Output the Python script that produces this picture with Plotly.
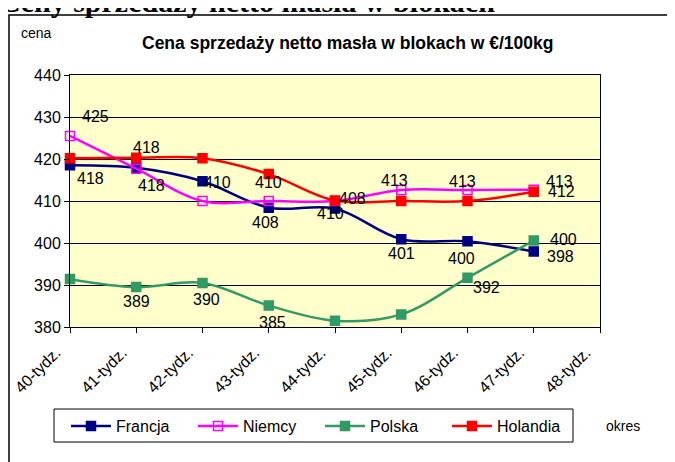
import plotly.graph_objects as go

# tygodnie (oś X)
weeks = ['40-tydz.', '41-tydz.', '42-tydz.', '43-tydz.', '44-tydz.',
         '45-tydz.', '46-tydz.', '47-tydz.', '48-tydz.']

# ceny w EUR/100kg
francja = [418.5, 417.9, 414.7, 408.4, 408.2, 400.9, 400.4, 398.0]
niemcy = [425.5, 417.7, 410.0, 410.0, 410.0, 412.6, 412.6, 412.7]
polska = [391.4, 389.5, 390.5, 385.1, 381.5, 383.0, 391.7, 400.6]
holandia = [420.2, 420.3, 420.2, 416.4, 410.1, 410.0, 410.0, 412.2]

# etykiety danych tak jak na wykresie
francja_lab = ['418', None, None, '408', '410', '401', '400', '398']
niemcy_lab = ['425', '418', '410', None, None, '413', '413', '413']
polska_lab = [None, '389', '390', '385', None, None, '392', '400']
holandia_lab = [None, '418', None, '410', '408', None, None, '412']

# przesunięcia etykiet (px)
lab_shift = {
    'Francja': [(20, -13), None, None, (-3, -15), (-5, -5), (0, -14), (-6, -17), (27, -5)],
    'Niemcy': [(25, 19), (15, -17), (15, 19), None, None, (-7, 10), (-5, 9), (26, 8)],
    'Polska': [None, (0, -14), (4, -17), (4, -17), None, None, (19, -10), (30, 1)],
    'Holandia': [None, (10, 10), None, (0, -8), (17, 2), None, None, (28, 0)],
}

series = [
    ('Francja', francja, francja_lab, '#000080', 'square'),
    ('Niemcy', niemcy, niemcy_lab, '#FF00FF', 'square-open'),
    ('Polska', polska, polska_lab, '#339966', 'square'),
    ('Holandia', holandia, holandia_lab, '#FF0000', 'square'),
]

FONT = 'Liberation Sans, Arial, sans-serif'

# obszar wykresu w pikselach (strona ma 8px marginesu)
OFF = 8
L, R, T, B = 70, 600, 75, 327
W, H = R - L, B - T
FW, FH = 675 - OFF, 462 - OFF


def px(x):
    return (x - L) / W


def py(y):
    return (B - y) / H


fig = go.Figure()
annotations = []
for name, vals, labs, color, sym in series:
    xs = list(range(len(vals)))
    fig.add_trace(go.Scatter(
        x=xs, y=vals, name=name,
        mode='lines+markers',
        line=dict(color=color, width=2.5, shape='spline', smoothing=1),
        marker=dict(symbol=sym, size=9, color=color, line=dict(color=color, width=1.5)),
        cliponaxis=False,
    ))
    for i, t in enumerate(labs):
        if t is None:
            continue
        dx, dy = lab_shift[name][i]
        annotations.append(dict(
            x=xs[i], y=vals[i], text=t, showarrow=False,
            xshift=dx, yshift=dy, xanchor='center', yanchor='middle',
            font=dict(family=FONT, size=16, color='black'),
        ))

# teksty dodatkowe
annotations += [
    dict(xref='paper', yref='paper', x=px(-3), y=py(2),
         text='<b>Ceny sprzedaży netto masła w blokach</b>', showarrow=False,
         xanchor='left', yanchor='middle',
         font=dict(family='Liberation Serif, Times New Roman, serif', size=30, color='black')),
    dict(xref='paper', yref='paper', x=px(347), y=py(43),
         text='<b>Cena sprzedaży netto masła w blokach w €/100kg</b>', showarrow=False,
         xanchor='center', yanchor='middle',
         font=dict(family=FONT, size=17.5, color='black')),
    dict(xref='paper', yref='paper', x=px(19), y=py(33),
         text='cena', showarrow=False, xanchor='left', yanchor='middle',
         font=dict(family=FONT, size=14, color='black')),
    dict(xref='paper', yref='paper', x=px(604), y=py(426),
         text='okres', showarrow=False, xanchor='left', yanchor='middle',
         font=dict(family=FONT, size=14, color='black')),
]

fig.update_layout(
    width=FW, height=FH,
    margin=dict(l=L - OFF, r=FW - (R - OFF), t=T - OFF, b=FH - (B - OFF), autoexpand=False),
    paper_bgcolor='white',
    plot_bgcolor='#FFFFCC',
    font=dict(family=FONT, size=16, color='black'),
    annotations=annotations,
    shapes=[
        # ramka całego wykresu
        dict(type='rect', xref='paper', yref='paper',
             x0=px(9), x1=px(690), y0=py(480), y1=py(15),
             line=dict(color='black', width=1.5), layer='below'),
        # ramka legendy
        dict(type='rect', xref='paper', yref='paper',
             x0=px(54), x1=px(573), y0=py(442), y1=py(409),
             line=dict(color='black', width=1), fillcolor='white', layer='below'),
    ],
    showlegend=True,
    legend=dict(
        orientation='h', x=px(66), y=py(409),
        xanchor='left', yanchor='top',
        borderwidth=0, bgcolor='rgba(0,0,0,0)',
        font=dict(family=FONT, size=16), itemwidth=40,
        entrywidth=72, tracegroupgap=0,
    ),
    xaxis=dict(
        range=[0, len(weeks) - 1], tickvals=list(range(len(weeks))), ticktext=weeks,
        tickangle=-45, ticks='outside', ticklen=5, tickcolor='black',
        showline=True, linecolor='black', linewidth=1, mirror=True,
        showgrid=False, zeroline=False,
        tickfont=dict(family=FONT, size=16), ticklabelstandoff=4, ticklabelshift=-14,
    ),
    yaxis=dict(
        range=[380, 440], dtick=10, ticks='outside', ticklen=5, tickcolor='black',
        showline=True, linecolor='black', linewidth=1, mirror=True,
        showgrid=True, gridcolor='black', gridwidth=1, zeroline=False,
        tickfont=dict(family=FONT, size=16),
    ),
)

fig.write_html('out.html')
